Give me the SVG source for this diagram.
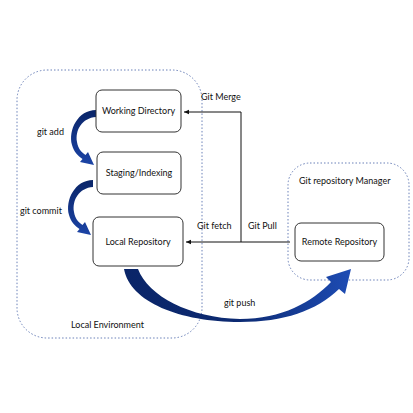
<svg xmlns="http://www.w3.org/2000/svg" width="413" height="413" viewBox="0 0 413 413">
<defs>
<style>
.cont{fill:none;stroke:#6a80b8;stroke-width:1;stroke-dasharray:1.5 2}
.box{fill:#fff;stroke:#333;stroke-width:1}
.t{font-family:Lato,"Liberation Sans",sans-serif;font-size:9px;fill:#111}
.c{text-anchor:middle}
.ln{fill:none;stroke:#111;stroke-width:1}
</style>
<linearGradient id="gv" x1="0" y1="0" x2="0" y2="1">
<stop offset="0" stop-color="#0a2568"/><stop offset="1" stop-color="#1c44a6"/>
</linearGradient>
<linearGradient id="gh" x1="0" y1="0" x2="1" y2="0">
<stop offset="0" stop-color="#0a2568"/><stop offset="0.5" stop-color="#0c2a72"/><stop offset="1" stop-color="#1e4cb4"/>
</linearGradient>
<marker id="ah" markerWidth="6" markerHeight="6" refX="5" refY="3" orient="auto" markerUnits="userSpaceOnUse">
<path d="M0,0.8 L5,3 L0,5.2 Z" fill="#111"/>
</marker>
<path id="curl" d="M96,110 C78,110 68,130 72,145 C74,152 78,156 82.5,159 L80,162 L94,165 L88,152 L85.5,155 C81,152 78,148 77,142 C75,130 82,118 96,117 Z"/>
</defs>
<rect width="413" height="413" fill="#fff"/>
<g id="local-env">
<rect class="cont" x="17" y="70" width="185" height="268" rx="30"/>
<text class="t" x="71" y="328">Local Environment</text>
</g>
<g id="repo-manager">
<rect class="cont" x="288" y="163" width="121" height="117" rx="22"/>
<text class="t" x="299" y="184">Git repository Manager</text>
</g>
<g id="connectors">
<path class="ln" d="M290,242 L186,242" marker-end="url(#ah)"/>
<path class="ln" d="M241,242 L241,112 L184,112" marker-end="url(#ah)"/>
<use href="#curl" fill="url(#gv)"/>
<use href="#curl" fill="url(#gv)" transform="translate(-3,70)"/>
<path fill="url(#gh)" d="M124,269 L138,269 C148,296 190,318 240,319 C282,319 312,302 331,282 L326,277 L351,269 L345,294 L339,289 C316,311 284,322 240,322 C180,322 130,302 124,269 Z"/>
<text class="t" x="37" y="135">git add</text>
<text class="t" x="20" y="214">git commit</text>
<text class="t" x="201" y="100">Git Merge</text>
<text class="t" x="197" y="229">Git fetch</text>
<text class="t" x="248" y="229">Git Pull</text>
<text class="t" x="224" y="306">git push</text>
</g>
<g id="working-directory">
<rect class="box" x="96" y="90" width="85" height="42" rx="6"/>
<text class="t c" x="138.5" y="114">Working Directory</text>
</g>
<g id="staging">
<rect class="box" x="97" y="152" width="84" height="42" rx="6"/>
<text class="t c" x="139" y="176">Staging/Indexing</text>
</g>
<g id="local-repository">
<rect class="box" x="93" y="217" width="90" height="49" rx="6"/>
<text class="t c" x="138" y="245">Local Repository</text>
</g>
<g id="remote-repository">
<rect class="box" x="295" y="223" width="89" height="38" rx="6"/>
<text class="t c" x="339.5" y="245">Remote Repository</text>
</g>
</svg>
